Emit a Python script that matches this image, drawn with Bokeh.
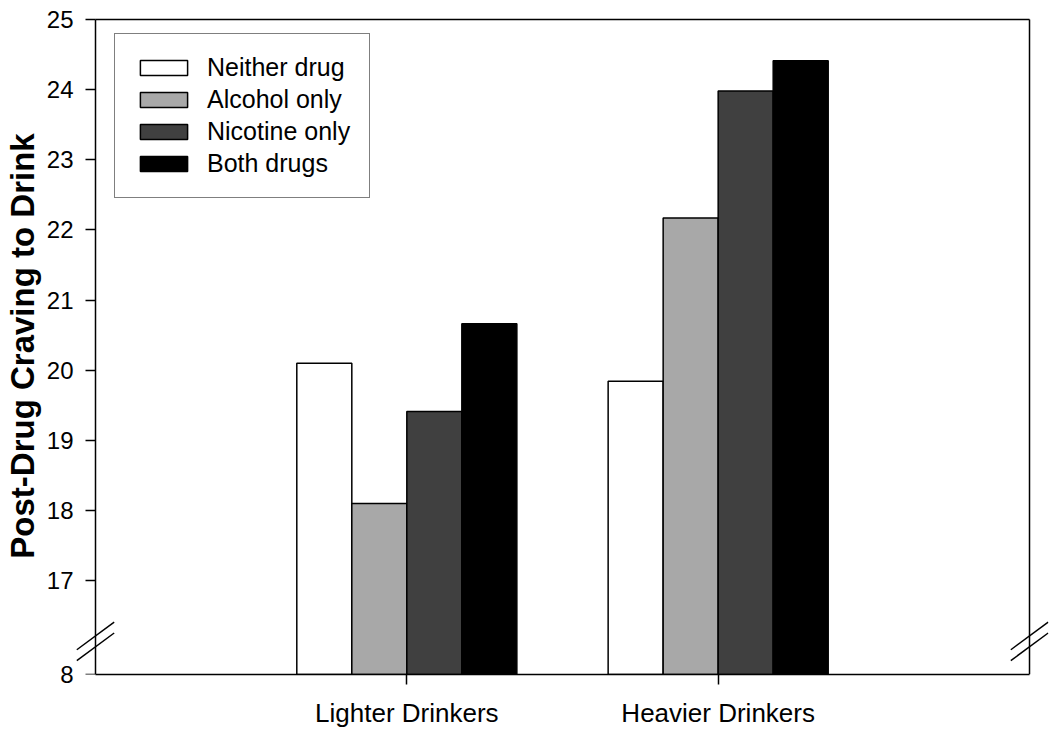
from bokeh.plotting import figure
from bokeh.models import (ColumnDataSource, FixedTicker, Legend, LegendItem, Range1d,
                          LinearAxis, CustomJSTickFormatter)
from bokeh.transform import dodge
from bokeh.embed import file_html
from bokeh.resources import INLINE

# ---- data ----
groups = ["Lighter Drinkers", "Heavier Drinkers"]
group_x = [1, 2]
series = ["Neither drug", "Alcohol only", "Nicotine only", "Both drugs"]
neither = [20.10, 19.84]
alcohol = [18.10, 22.17]
nicotine = [19.41, 23.98]
both = [20.66, 24.41]
colors = ["#ffffff", "#a8a8a8", "#404040", "#000000"]
y_ticks = [17, 18, 19, 20, 21, 22, 23, 24, 25]
axis_floor_label = "8"     # real value at the bottom of the broken axis

# axis break: the bottom (value 8) is drawn this far below 17
Y_TOP = 25
BREAK_TOP = 17
BREAK_GAP = 1.34
BASE = BREAK_TOP - BREAK_GAP
X_LO, X_HI = 0, 3

FONT = "Liberation Sans"
BAR_W = 0.1767

src = ColumnDataSource(dict(x=group_x, neither=neither, alcohol=alcohol,
                            nicotine=nicotine, both=both))

# the frame is a little larger than the drawn axis box so that the
# break marks can cross the box edges
p = figure(width=1050, height=730, output_backend="svg", toolbar_location=None,
           x_range=Range1d(X_LO - 0.0642, X_HI + 0.061),
           y_range=Range1d(BASE, Y_TOP + 0.0285),
           min_border_left=5, min_border_right=2, min_border_top=17,
           min_border_bottom=56)
p.outline_line_color = None
p.xgrid.visible = False
p.ygrid.visible = False

cols = ["neither", "alcohol", "nicotine", "both"]
offsets = [-1.5, -0.5, 0.5, 1.5]
items = []
for col, name, c, off in zip(cols, series, colors, offsets):
    r = p.vbar(x=dodge("x", off * BAR_W, range=p.x_range), top=col, bottom=BASE,
               width=BAR_W, source=src, fill_color=c, line_color="black",
               line_width=1.5)
    items.append(LegendItem(label=name, renderers=[r]))

legend = Legend(items=items, location=(39, 476), margin=0, padding=19,
                spacing=3, glyph_width=59, glyph_height=19, label_standoff=14,
                label_text_font=FONT, label_text_font_size="25px",
                label_text_color="black", border_line_color="black",
                border_line_width=1.5, background_fill_color="white",
                background_fill_alpha=1.0)
p.add_layout(legend)

# box: top and right edges
p.segment(x0=[X_LO, X_HI], y0=[Y_TOP, BASE], x1=[X_HI, X_HI], y1=[Y_TOP, Y_TOP],
          line_color="black", line_width=1.5)

ticker = FixedTicker(ticks=[BASE] + y_ticks)
overrides = {BASE: axis_floor_label}

# y axis line + ticks, placed on the box edge
ax = p.yaxis[0]
ax.fixed_location = X_LO
ax.bounds = (BASE, Y_TOP)
ax.ticker = ticker
ax.formatter = CustomJSTickFormatter(code="return ''")
ax.minor_tick_line_color = None
ax.major_tick_out = 10
ax.major_tick_in = 0
ax.major_tick_line_width = 1.5
ax.axis_line_width = 1.5

# y tick labels + title, in the side panel
lab = LinearAxis(ticker=ticker, major_label_overrides=overrides, bounds=(BASE, Y_TOP))
lab.axis_line_color = None
lab.major_tick_line_color = None
lab.minor_tick_line_color = None
lab.major_tick_out = 0
lab.major_tick_in = 0
lab.major_label_standoff = 2
lab.major_label_text_font = FONT
lab.major_label_text_font_size = "24px"
lab.major_label_text_color = "black"
lab.axis_label = "Post-Drug Craving to Drink"
lab.axis_label_text_font = FONT
lab.axis_label_text_font_style = "bold"
lab.axis_label_text_font_size = "33px"
lab.axis_label_text_color = "black"
lab.axis_label_standoff = 3
p.add_layout(lab, "left")

# x axis
p.xaxis.bounds = (X_LO, X_HI)
p.xaxis.ticker = FixedTicker(ticks=group_x)
p.xaxis.major_label_overrides = {gx: g for gx, g in zip(group_x, groups)}
p.xaxis.minor_tick_line_color = None
p.xaxis.major_tick_out = 10
p.xaxis.major_tick_in = 0
p.xaxis.major_tick_line_width = 1.5
p.xaxis.axis_line_width = 1.5
p.xaxis.major_label_standoff = 13
p.xaxis.major_label_text_font = FONT
p.xaxis.major_label_text_font_size = "26px"
p.xaxis.major_label_text_color = "black"

# axis-break marks (two parallel slashes on each vertical edge)
dx = 0.060
dy = 0.197
mids = [BASE + 0.55, BASE + 0.395]
bx0, by0, bx1, by1 = [], [], [], []
for xc in (X_LO, X_HI):
    for yc in mids:
        bx0.append(xc - dx); by0.append(yc - dy)
        bx1.append(xc + dx); by1.append(yc + dy)
p.segment(x0=bx0, y0=by0, x1=bx1, y1=by1, line_color="black", line_width=1.5)

open("out.html", "w").write(file_html(p, INLINE))
